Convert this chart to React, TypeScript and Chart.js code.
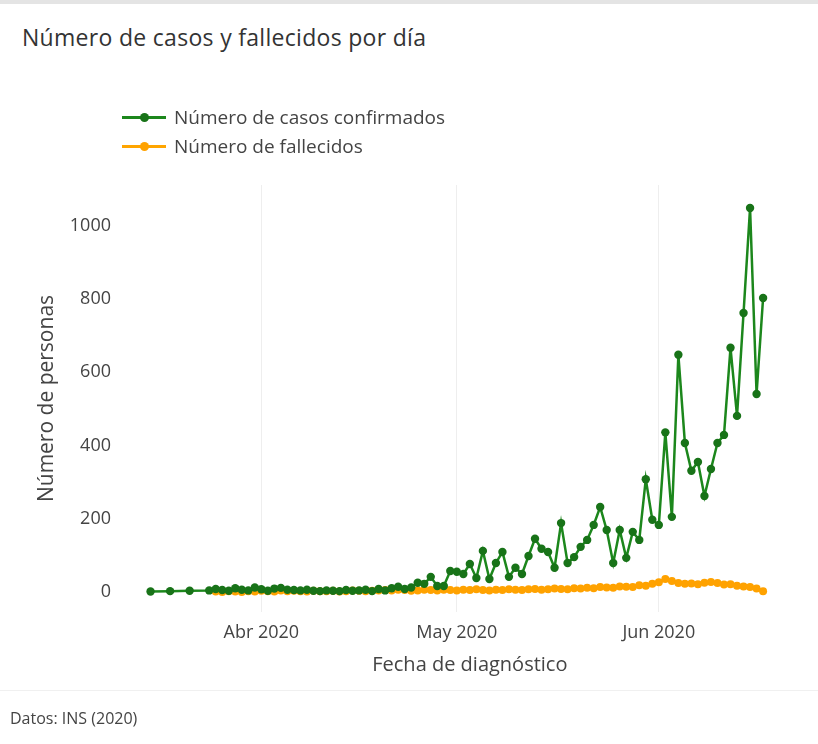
import React, { useEffect, useRef } from "react";
import { Chart, registerables } from "chart.js";

Chart.register(...registerables);

// ---- Data ----
const casosFechasIniciales = ["2020-03-15", "2020-03-18", "2020-03-21"];
const casosValoresIniciales = [1, 2, 3];
const casosInicioDiario = "2020-03-24";
const casosDiarios = [
  4, 8, 5, 3, 10, 6, 4, 12, 7, 3,
  9, 11, 6, 5, 4, 6, 3, 2, 4, 3,
  2, 5, 3, 4, 6, 2, 8, 4, 10, 14,
  8, 12,
  25, 22, 41, 16, 16, 57, 55, 49, 76, 38,
  112, 35, 79, 109, 41, 66, 49, 98, 145, 118,
  109, 66, 188, 79, 95, 123, 142, 183, 232, 169,
  79, 169, 93, 164, 142, 308, 197, 183, 436, 205,
  648, 407, 331, 355, 262, 336, 407, 429, 667, 481,
  762, 1049, 541, 803,
];

const fallecidosInicioDiario = "2020-03-25";
const fallecidosDiarios = [
  1, 0, 2, 1, 0, 2, 1,
  3, 2, 1, 4, 2, 3, 2, 1, 3, 2,
  2, 3, 1, 2, 4, 3, 2, 3, 4, 5,
  4, 6, 5, 3, 4, 6, 5, 4, 6, 5,
  4, 6, 5, 7, 5, 4, 6, 5, 7, 6,
  5, 7, 8, 6, 7, 9, 8, 7, 10, 9,
  11, 10, 13, 12, 11, 15, 14, 13, 18, 17,
  22, 26, 35, 30, 24, 22, 23, 21, 25, 27,
  24, 20, 21, 17, 15, 13, 9, 2,
];

const xTickFechas = ["2020-04-01", "2020-05-01", "2020-06-01"];
const xTickEtiquetas = ["Abr 2020", "May 2020", "Jun 2020"];
const yTickValores = [0, 200, 400, 600, 800, 1000];

const serieNombres = ["Número de casos confirmados", "Número de fallecidos"];
const serieColores = ["#1c871c", "#ffa500"];
const serieMarcadores = ["#187318", "#ffa200"];

// ---- Helpers ----
const ORIGEN = Date.UTC(2020, 2, 1);
function toDay(s: string): number {
  const [y, m, d] = s.split("-").map(Number);
  return Math.round((Date.UTC(y, m - 1, d) - ORIGEN) / 86400000);
}

function buildCasos() {
  const pts: { x: number; y: number }[] = [];
  casosFechasIniciales.forEach((f, i) => pts.push({ x: toDay(f), y: casosValoresIniciales[i] }));
  const start = toDay(casosInicioDiario);
  casosDiarios.forEach((v, i) => pts.push({ x: start + i, y: v }));
  return pts;
}
function buildFallecidos() {
  const start = toDay(fallecidosInicioDiario);
  return fallecidosDiarios.map((v, i) => ({ x: start + i, y: v }));
}

const FONT = "'Open Sans', 'DejaVu Sans', sans-serif";

export default function App() {
  const ref = useRef<HTMLCanvasElement | null>(null);

  useEffect(() => {
    if (!ref.current) return;
    const xTickDays = xTickFechas.map(toDay);
    const chart = new Chart(ref.current, {
      type: "line",
      data: {
        datasets: [
          {
            label: serieNombres[0],
            data: buildCasos(),
            borderColor: serieColores[0],
            backgroundColor: serieMarcadores[0],
            pointBackgroundColor: serieMarcadores[0],
            pointBorderColor: serieMarcadores[0],
            borderWidth: 2.5,
            pointRadius: 4.2,
            pointBorderWidth: 0,
            tension: 0,
          },
          {
            label: serieNombres[1],
            data: buildFallecidos(),
            borderColor: serieColores[1],
            backgroundColor: serieMarcadores[1],
            pointBackgroundColor: serieMarcadores[1],
            pointBorderColor: serieMarcadores[1],
            borderWidth: 3,
            pointRadius: 4,
            pointBorderWidth: 0,
            tension: 0,
          },
        ],
      },
      options: {
        animation: false,
        responsive: false,
        layout: { padding: { top: 185, left: 0, right: 9.3, bottom: 62 } },
        plugins: {
          legend: { display: false },
          title: { display: false },
          tooltip: { enabled: false },
        },
        scales: {
          x: {
            type: "linear",
            min: toDay("2020-03-12"),
            max: toDay("2020-06-24"),
            afterBuildTicks: (s: any) => {
              s.ticks = xTickDays.map((v) => ({ value: v }));
            },
            afterFit: (s: any) => {
              s.height = 70;
            },
            ticks: {
              padding: 10,
              color: "#444",
              font: { family: FONT, size: 18 },
              maxRotation: 0,
              autoSkip: false,
              callback: (v: any) => {
                const i = xTickDays.indexOf(Number(v));
                return i >= 0 ? xTickEtiquetas[i] : "";
              },
            },
            grid: { color: "#eeeeee", drawTicks: false, lineWidth: 1 },
            border: { display: false },
            title: {
              display: true,
              text: "Fecha de diagnóstico",
              color: "#444",
              font: { family: FONT, size: 20 },
              padding: { top: 0, bottom: 5 },
            },
          },
          y: {
            type: "linear",
            min: -55,
            max: 1112,
            afterBuildTicks: (s: any) => {
              s.ticks = yTickValores.map((v) => ({ value: v }));
            },
            afterFit: (s: any) => {
              s.width = 131;
            },
            ticks: {
              padding: 20,
              color: "#444",
              font: { family: FONT, size: 18 },
              callback: (v: any) => String(v),
            },
            grid: { display: false, drawTicks: false },
            border: { display: false },
            title: {
              display: true,
              text: "Número de personas",
              color: "#444",
              font: { family: FONT, size: 21 },
              padding: { top: 34, bottom: 0 },
            },
          },
        },
      },
    });
    return () => chart.destroy();
  }, []);

  const legendRow = (i: number, top: number) => (
    <div
      key={i}
      style={{ position: "absolute", left: 122, top: top - 13, height: 26, display: "flex", alignItems: "center" }}
    >
      <div style={{ position: "relative", width: 44, height: 26 }}>
        <div style={{ position: "absolute", left: 0, top: 12, width: 44, height: 2.5, background: serieColores[i] }} />
        <div
          style={{
            position: "absolute",
            left: 17.5,
            top: 9,
            width: 9,
            height: 9,
            borderRadius: 5,
            background: serieMarcadores[i],
          }}
        />
      </div>
      <span style={{ marginLeft: 8, fontFamily: FONT, fontSize: 19, color: "#444", whiteSpace: "nowrap" }}>
        {serieNombres[i]}
      </span>
    </div>
  );

  return (
    <div style={{ position: "absolute", left: 0, top: 0, width: 818, height: 744, background: "#fff", overflow: "hidden" }}>
      <div style={{ position: "absolute", left: 0, top: 0, width: 818, height: 4, background: "#e4e4e4" }} />
      <div
        style={{
          position: "absolute",
          left: 22,
          top: 21,
          fontFamily: FONT,
          fontSize: 23,
          letterSpacing: 0.3,
          color: "#333",
          whiteSpace: "nowrap",
          lineHeight: "32px",
        }}
      >
        Número de casos y fallecidos por día
      </div>
      <canvas ref={ref} width={818} height={744} style={{ position: "absolute", left: 0, top: 0 }} />
      {legendRow(0, 117)}
      {legendRow(1, 146)}
      <div style={{ position: "absolute", left: 0, top: 690, width: 818, height: 1, background: "#f0f0f0" }} />
      <div
        style={{
          position: "absolute",
          left: 10,
          top: 706,
          fontFamily: FONT,
          fontSize: 16,
          color: "#444",
          whiteSpace: "nowrap",
          lineHeight: "24px",
        }}
      >
        Datos: INS (2020)
      </div>
    </div>
  );
}
